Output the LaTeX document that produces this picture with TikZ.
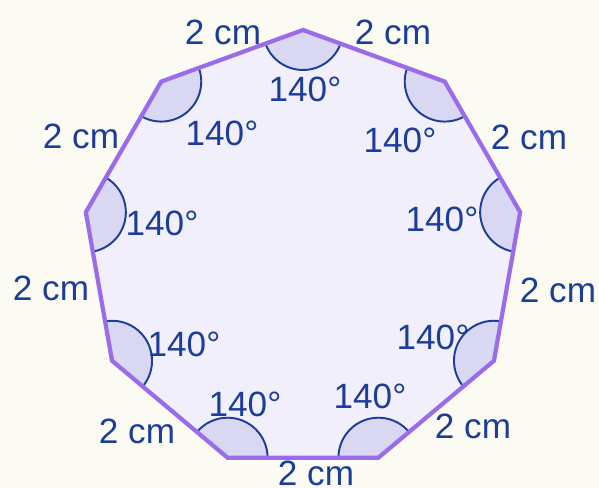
\documentclass[tikz,border=0pt]{standalone}
\usepackage{fontspec}
\setmainfont{Liberation Sans}
\usepackage{tikz}
\usetikzlibrary{calc}
\definecolor{paper}{HTML}{FBFAF3}
\definecolor{polyFill}{HTML}{F1EFFC}
\definecolor{angFill}{HTML}{D8D8F2}
\definecolor{edgeC}{HTML}{9A6CEB}
\definecolor{inkC}{HTML}{1D3D9A}

\begin{document}
\begin{tikzpicture}[font=\fontsize{20}{24}\selectfont,
  lab/.style={text=inkC,inner sep=0pt},
  sector/.style={draw=inkC,line width=1.1pt,fill=angFill},
  edge/.style={draw=edgeC,line width=2.4pt,line join=miter}]
\fill[paper] (0,0) rectangle (11.98,9.76);
\useasboundingbox (0,0) rectangle (11.98,9.76);
\coordinate (c) at (6.06,4.75);
\coordinate (v0) at ($(c)+(90:4.41)$);
\coordinate (v1) at ($(c)+(130:4.41)$);
\coordinate (v2) at ($(c)+(170:4.41)$);
\coordinate (v3) at ($(c)+(210:4.41)$);
\coordinate (v4) at ($(c)+(250:4.41)$);
\coordinate (v5) at ($(c)+(290:4.41)$);
\coordinate (v6) at ($(c)+(330:4.41)$);
\coordinate (v7) at ($(c)+(10:4.41)$);
\coordinate (v8) at ($(c)+(50:4.41)$);
\fill[polyFill] (v0) -- (v1) -- (v2) -- (v3) -- (v4) -- (v5) -- (v6) -- (v7) -- (v8) -- cycle;
\path[sector] (v0) -- ++(200:0.8) arc[start angle=200,end angle=340,radius=0.8] -- cycle;
\path[sector] (v1) -- ++(240:0.8) arc[start angle=240,end angle=380,radius=0.8] -- cycle;
\path[sector] (v2) -- ++(280:0.8) arc[start angle=280,end angle=420,radius=0.8] -- cycle;
\path[sector] (v3) -- ++(320:0.8) arc[start angle=320,end angle=460,radius=0.8] -- cycle;
\path[sector] (v4) -- ++(0:0.8) arc[start angle=0,end angle=140,radius=0.8] -- cycle;
\path[sector] (v5) -- ++(40:0.8) arc[start angle=40,end angle=180,radius=0.8] -- cycle;
\path[sector] (v6) -- ++(80:0.8) arc[start angle=80,end angle=220,radius=0.8] -- cycle;
\path[sector] (v7) -- ++(120:0.8) arc[start angle=120,end angle=260,radius=0.8] -- cycle;
\path[sector] (v8) -- ++(160:0.8) arc[start angle=160,end angle=300,radius=0.8] -- cycle;
\path[edge] (v0) -- (v1) -- (v2) -- (v3) -- (v4) -- (v5) -- (v6) -- (v7) -- (v8) -- cycle;
\node[lab] (s01) at (4.46,9.12) {2 cm};
\node[lab] (s80) at (7.86,9.12) {2 cm};
\node[lab] (s12) at (1.62,7.04) {2 cm};
\node[lab] (s78) at (10.58,7.02) {2 cm};
\node[lab] (s23) at (1.02,4.00) {2 cm};
\node[lab] (s67) at (11.16,3.96) {2 cm};
\node[lab] (s34) at (2.74,1.14) {2 cm};
\node[lab] (s56) at (9.46,1.24) {2 cm};
\node[lab] (s45) at (6.32,0.30) {2 cm};
\node[lab] (a0) at (6.10,7.98) {140°};
\node[lab] (a1) at (4.44,7.10) {140°};
\node[lab] (a8) at (8.00,6.96) {140°};
\node[lab] (a2) at (3.24,5.30) {140°};
\node[lab] (a7) at (8.84,5.38) {140°};
\node[lab] (a3) at (3.68,2.88) {140°};
\node[lab] (a6) at (8.66,3.02) {140°};
\node[lab] (a4) at (4.90,1.68) {140°};
\node[lab] (a5) at (7.40,1.84) {140°};
\end{tikzpicture}
\end{document}
